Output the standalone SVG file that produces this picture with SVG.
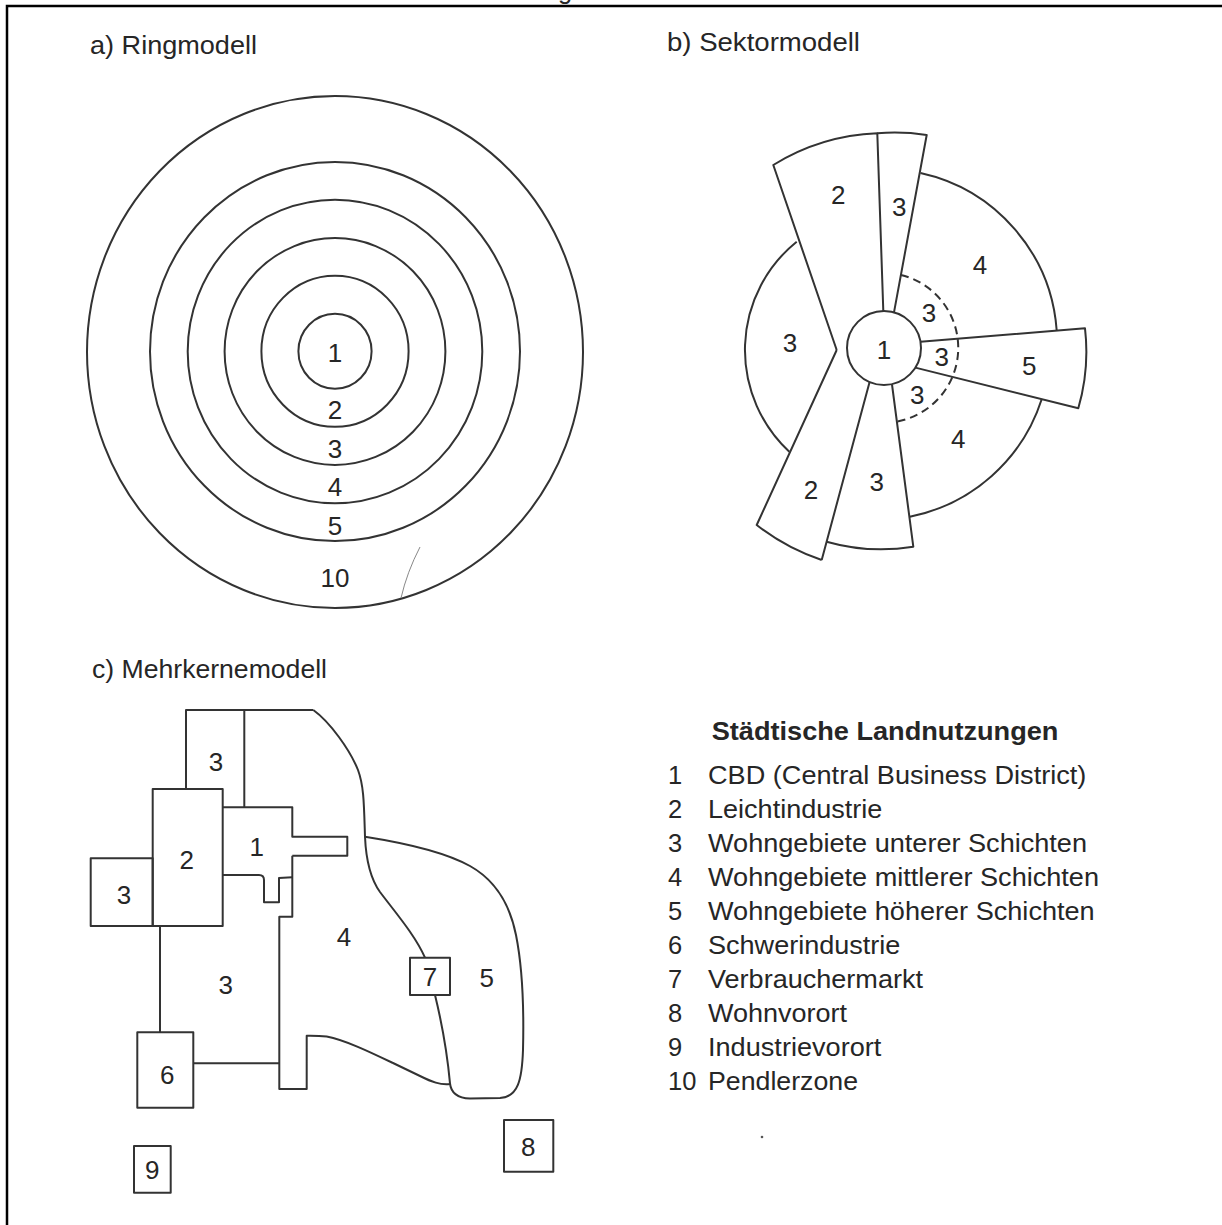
<svg xmlns="http://www.w3.org/2000/svg" width="1222" height="1225" viewBox="0 0 1222 1225">
<style>
.ln{fill:none;stroke:#333;stroke-width:2;stroke-linejoin:round}
.dash{fill:none;stroke:#333;stroke-width:2;stroke-dasharray:8 5}
.t{font-family:"Liberation Sans",Arial,sans-serif;font-size:25.5px;fill:#262626}
.d{font-family:"Liberation Sans",Arial,sans-serif;font-size:26px;fill:#262626;text-anchor:middle}
.b{font-family:"Liberation Sans",Arial,sans-serif;font-size:25.5px;font-weight:bold;fill:#262626}
</style>
<rect width="1222" height="1225" fill="#fff"/>
<g id="frame">
<path d="M7,1225 V6 H1222" fill="none" stroke="#000" stroke-width="2.5"/>
<text class="t" x="558" y="-1.5" font-size="26">g</text>
</g>

<g id="titles">
<text class="t" x="90" y="54" textLength="167" lengthAdjust="spacingAndGlyphs">a) Ringmodell</text>
<text class="t" x="667" y="51" textLength="193" lengthAdjust="spacingAndGlyphs">b) Sektormodell</text>
<text class="t" x="92" y="678" textLength="235" lengthAdjust="spacingAndGlyphs">c) Mehrkernemodell</text>
</g>

<!-- a) Ringmodell -->
<g id="ring-10"><ellipse class="ln" cx="335" cy="352" rx="248" ry="256"/><text class="d" x="335" y="587">10</text></g>
<g id="ring-5"><ellipse class="ln" cx="335" cy="351.5" rx="185" ry="189.6"/><text class="d" x="335" y="535">5</text></g>
<g id="ring-4"><ellipse class="ln" cx="335" cy="351.5" rx="147.3" ry="151.8"/><text class="d" x="335" y="496">4</text></g>
<g id="ring-3"><ellipse class="ln" cx="335" cy="351.5" rx="110.4" ry="113.4"/><text class="d" x="335" y="458">3</text></g>
<g id="ring-2"><ellipse class="ln" cx="335" cy="351.3" rx="73.6" ry="75.5"/><text class="d" x="335" y="419">2</text></g>
<g id="ring-1"><ellipse class="ln" cx="335" cy="351.2" rx="36.6" ry="37.5"/><text class="d" x="335" y="362">1</text></g>
<path d="M420,547 Q407,572 401,598" fill="none" stroke="#888" stroke-width="1"/>

<!-- b) Sektormodell -->
<g id="sektor-2-oben"><path class="ln" d="M836.7,350 L773.3,165 A214 214 0 0 1 877.3,133.3 L883.3,311"/><text class="d" x="838.3" y="204">2</text></g>
<g id="sektor-3-oben"><path class="ln" d="M877.3,133.3 A215 215 0 0 1 926.7,135 L894,312.4"/><text class="d" x="899.3" y="216.3">3</text></g>
<g id="sektor-4-oben"><path class="ln" d="M920.5,173 A174 174 0 0 1 1056.7,330.5"/><text class="d" x="980" y="274">4</text></g>
<g id="sektor-3-links"><path class="ln" d="M796.7,241.7 A139 139 0 0 0 789.3,451.7"/><text class="d" x="790" y="352.3">3</text></g>
<g id="sektor-5"><path class="ln" d="M920.5,341.7 L1085,328.3 A203 203 0 0 1 1078.3,408.3 L915.3,367.6"/><text class="d" x="1029.3" y="375">5</text></g>
<g id="sektor-4-unten"><path class="ln" d="M1041.7,399.3 A174 174 0 0 1 909.8,516.7"/><text class="d" x="958.3" y="448.3">4</text></g>
<g id="sektor-3-unten"><path class="ln" d="M869.6,381.9 L821.7,560 M826.6,541.7 A200 200 0 0 0 913.3,546.7 L892,384.5"/><text class="d" x="876.7" y="491.3">3</text></g>
<g id="sektor-2-unten"><path class="ln" d="M836.7,350 L756.7,525 A219 219 0 0 0 821.7,560"/><text class="d" x="811" y="499">2</text></g>
<g id="sektor-3-innen"><path class="dash" d="M901,275 A75 75 0 0 1 897.5,421.5"/><text class="d" x="929" y="321.7">3</text><text class="d" x="941.7" y="365.7">3</text><text class="d" x="917.3" y="404">3</text></g>
<g id="sektor-1"><circle class="ln" cx="884" cy="348" r="37" fill="#fff"/><text class="d" x="884" y="359">1</text></g>

<!-- c) Mehrkernemodell -->
<g id="mk-3-oben"><path class="ln" d="M186,789 V710 H313.3 M244.3,710 V807.3"/><text class="d" x="216" y="770.7">3</text></g>
<g id="mk-4"><path class="ln" d="M313.3,710 C330,722 350,750 358,770 C364,786 364,805 365,836.7 C366,860 370,878 380,892 C395,912 415,935 425,957.7 M450,1084 C440,1085 432,1082 420,1076 L393,1063 C370,1052 345,1040 326.7,1036.5 C318,1035.5 312,1035.7 306.7,1035.7 V1089 H279.3 V916.7 H292.3 V855.7"/><text class="d" x="344" y="945.7">4</text></g>
<g id="mk-1"><path class="ln" d="M292.3,855.7 H347.3 V836.7 H292.3 V807.3 H222.7 M222.7,875 H259 Q264,875 264,880 V902.3 H279 V878 L292.3,877.3"/><text class="d" x="256.7" y="855.7">1</text></g>
<g id="mk-5"><path class="ln" d="M365,836.7 C405,843 445,852 470,866 C495,880 510,905 516,935 C522,965 524,1010 523,1050 C522,1080 518,1097 500,1098 L470,1098.5 C458,1098 451,1093 450,1083.3 M435,995 Q446,1040 450,1083.3"/><text class="d" x="486.7" y="987.3">5</text></g>
<g id="mk-2"><rect class="ln" x="152.7" y="789" width="70" height="137"/><text class="d" x="186.7" y="869">2</text></g>
<g id="mk-3-links"><rect class="ln" x="90.7" y="858.3" width="62" height="67.7"/><text class="d" x="124" y="904">3</text></g>
<g id="mk-3-mitte"><text class="d" x="225.7" y="994">3</text></g>
<g id="mk-6"><rect class="ln" x="137.3" y="1032.3" width="56" height="75.4"/><text class="d" x="167.3" y="1084">6</text></g>
<g id="mk-7"><rect class="ln" x="410" y="957.7" width="40" height="37.3"/><text class="d" x="430" y="985.7">7</text></g>
<g id="mk-8"><rect class="ln" x="504" y="1120" width="49.3" height="51.7"/><text class="d" x="528.3" y="1155.7">8</text></g>
<g id="mk-9"><rect class="ln" x="134" y="1146" width="36.7" height="46.7"/><text class="d" x="152.3" y="1179">9</text></g>
<g id="connectors">
<path class="ln" d="M160,926 V1032.3 M193.3,1063.3 H279.3"/>
</g>
<circle cx="762" cy="1137" r="1.3" fill="#555"/>

<!-- Legende -->
<g id="legende">
<text class="b" x="711.7" y="740" textLength="346.7" lengthAdjust="spacingAndGlyphs">Städtische Landnutzungen</text>
<g class="t">
<text x="668" y="783.5">1</text><text x="708" y="783.5" textLength="378.4" lengthAdjust="spacingAndGlyphs">CBD (Central Business District)</text>
<text x="668" y="817.5">2</text><text x="708" y="817.5" textLength="174.4" lengthAdjust="spacingAndGlyphs">Leichtindustrie</text>
<text x="668" y="851.5">3</text><text x="708" y="851.5" textLength="379" lengthAdjust="spacingAndGlyphs">Wohngebiete unterer Schichten</text>
<text x="668" y="885.5">4</text><text x="708" y="885.5" textLength="391" lengthAdjust="spacingAndGlyphs">Wohngebiete mittlerer Schichten</text>
<text x="668" y="919.5">5</text><text x="708" y="919.5" textLength="386.7" lengthAdjust="spacingAndGlyphs">Wohngebiete höherer Schichten</text>
<text x="668" y="953.5">6</text><text x="708" y="953.5" textLength="192.4" lengthAdjust="spacingAndGlyphs">Schwerindustrie</text>
<text x="668" y="987.5">7</text><text x="708" y="987.5" textLength="215" lengthAdjust="spacingAndGlyphs">Verbrauchermarkt</text>
<text x="668" y="1021.5">8</text><text x="708" y="1021.5" textLength="139" lengthAdjust="spacingAndGlyphs">Wohnvorort</text>
<text x="668" y="1055.5">9</text><text x="708" y="1055.5" textLength="173.4" lengthAdjust="spacingAndGlyphs">Industrievorort</text>
<text x="668" y="1089.5">10</text><text x="708" y="1089.5" textLength="150" lengthAdjust="spacingAndGlyphs">Pendlerzone</text>
</g>
</g>
</svg>
